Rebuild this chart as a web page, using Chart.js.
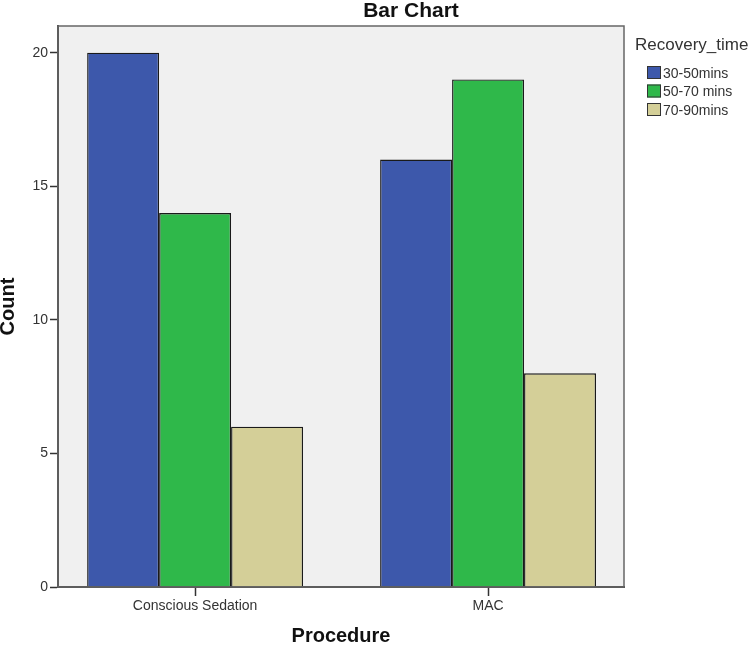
<!DOCTYPE html>
<html>
<head>
<meta charset="utf-8">
<script src="https://cdn.jsdelivr.net/npm/chart.js@4/dist/chart.umd.min.js"></script>
<style>
  html, body { margin: 0; padding: 0; background: #fff; }
  #wrap { width: 750px; height: 646px; }
</style>
</head>
<body>
<div id="wrap"><canvas id="barChart" width="750" height="646"></canvas></div>
<script>
// data
const chartTitle = 'Bar Chart';
const legendTitle = 'Recovery_time';
const procedures = ['Conscious Sedation', 'MAC'];
const seriesLabels = ['30-50mins', '50-70 mins', '70-90mins'];
const seriesColors = ['#3d58ab', '#2fb84a', '#d4cf98'];
const count3050 = [20, 16];
const count5070 = [14, 19];
const count7090 = [6, 8];
const yTicks = [0, 5, 10, 15, 20];

const allCounts = [count3050, count5070, count7090];
const fontFamily = '"Liberation Sans", Arial, sans-serif';

// background, frame, title and legend, SPSS style
const spssDecor = {
    id: 'spssDecor',
    beforeDraw(chart) {
        const { ctx, chartArea: a } = chart;
        ctx.save();
        ctx.fillStyle = '#f0f0f0';
        ctx.fillRect(a.left, a.top, a.right - a.left, a.bottom - a.top);
        ctx.restore();
    },
    afterDraw(chart) {
        const { ctx, chartArea: a } = chart;
        ctx.save();
        // frame round the plot
        ctx.strokeStyle = '#666';
        ctx.lineWidth = 1.5;
        ctx.strokeRect(a.left, a.top, a.right - a.left, a.bottom - a.top);

        // title
        ctx.fillStyle = '#111';
        ctx.textAlign = 'center';
        ctx.textBaseline = 'alphabetic';
        ctx.font = 'bold 21px ' + fontFamily;
        ctx.fillText(chartTitle, (a.left + chart.width) / 2 + 7, 17);

        // legend
        ctx.textAlign = 'left';
        ctx.fillStyle = '#333';
        ctx.font = '17px ' + fontFamily;
        ctx.fillText(legendTitle, a.right + 11, a.top + 24);
        ctx.font = '14px ' + fontFamily;
        chart.data.datasets.forEach((ds, i) => {
            const y = a.top + 40 + i * 18.5;
            ctx.fillStyle = ds.backgroundColor;
            ctx.fillRect(a.right + 23, y, 14, 13);
            ctx.strokeStyle = '#333';
            ctx.lineWidth = 1;
            ctx.strokeRect(a.right + 23.5, y + 0.5, 13, 12);
            ctx.fillStyle = '#333';
            ctx.fillText(ds.label, a.right + 39, y + 11.5);
        });
        ctx.restore();
    }
};

const datasets = seriesLabels.map((label, i) => ({
    label: label,
    data: allCounts[i].map((v, j) => ({ x: j, y: v })),
    backgroundColor: seriesColors[i],
    borderColor: '#1a1a1a',
    borderWidth: 1.4,
    categoryPercentage: 0.737,
    barPercentage: 1.0
}));

const ctx = document.getElementById('barChart').getContext('2d');
new Chart(ctx, {
    type: 'bar',
    data: { datasets: datasets },
    plugins: [spssDecor],
    options: {
        responsive: false,
        animation: false,
        devicePixelRatio: 1,
        layout: { padding: { top: 26, right: 126, bottom: 0, left: 0 } },
        plugins: {
            legend: { display: false },
            title: { display: false },
            tooltip: { enabled: false }
        },
        scales: {
            x: {
                type: 'linear',
                min: -0.468,
                max: 1.464,
                offset: false,
                afterBuildTicks: scale => {
                    scale.ticks = procedures.map((p, i) => ({ value: i }));
                },
                afterFit: scale => { scale.height = 59; },
                grid: {
                    offset: false,
                    drawOnChartArea: false,
                    drawTicks: true,
                    tickLength: 9,
                    tickColor: '#333',
                    tickWidth: 1.5
                },
                border: { display: true, color: '#444', width: 2 },
                ticks: {
                    padding: 2,
                    color: '#333',
                    font: { family: fontFamily, size: 14 },
                    maxRotation: 0,
                    callback: value => procedures[value]
                },
                title: {
                    display: true,
                    text: 'Procedure',
                    color: '#111',
                    padding: 0,
                    font: { family: fontFamily, size: 20, weight: 'bold', lineHeight: 1 }
                }
            },
            y: {
                min: 0,
                max: 21,
                afterBuildTicks: scale => {
                    scale.ticks = yTicks.map(v => ({ value: v }));
                },
                afterFit: scale => { scale.width = 58; },
                grid: {
                    drawOnChartArea: false,
                    drawTicks: true,
                    tickLength: 8,
                    tickColor: '#333',
                    tickWidth: 1.5
                },
                border: { display: true, color: '#444', width: 2 },
                ticks: {
                    padding: 2,
                    color: '#333',
                    font: { family: fontFamily, size: 14 }
                },
                title: {
                    display: true,
                    text: 'Count',
                    color: '#111',
                    padding: 0,
                    font: { family: fontFamily, size: 20, weight: 'bold', lineHeight: 0.8 }
                }
            }
        }
    }
});
</script>
</body>
</html>
